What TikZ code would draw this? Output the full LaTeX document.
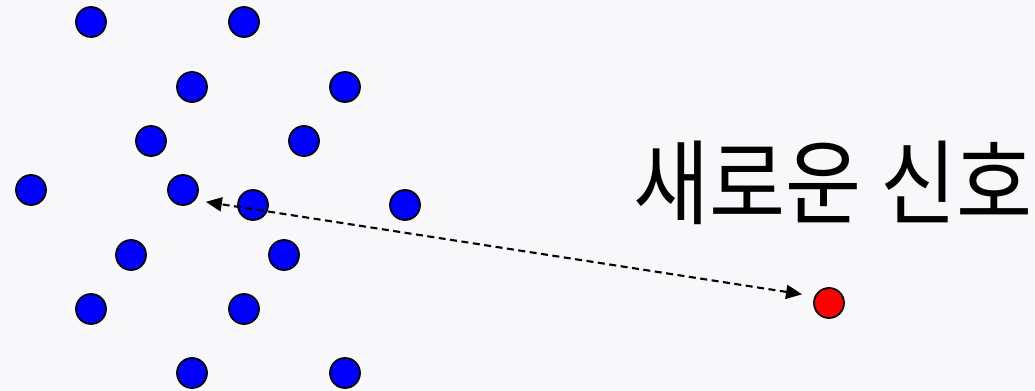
\documentclass[tikz,border=0pt]{standalone}
\usepackage{fontspec}
\newfontfamily\krfont{Noto Sans CJK KR}
\usepackage{xcolor}
\usetikzlibrary{positioning, arrows.meta}
\definecolor{bgpaper}{RGB}{248,248,250}

\begin{document}
\begin{tikzpicture}[
  x=0.01cm, y=-0.01cm,
  sample/.style={circle, draw=black, fill=blue, line width=0.5pt, minimum size=0.3cm, inner sep=0pt},
  query/.style={circle, draw=black, fill=red, line width=0.5pt, minimum size=0.3cm, inner sep=0pt},
  caption/.style={inner sep=0pt, font=\krfont\fontsize{23.5pt}{28pt}\selectfont},
  link/.style={draw, line width=0.6pt, dash pattern=on 0.07cm off 0.045cm, {Triangle[length=0.16cm, width=0.14cm]}-{Triangle[length=0.16cm, width=0.14cm]}}
]

  \fill [bgpaper] (0,0) rectangle (1035,391);

  % known samples
  \node [sample] (d1) at (91,22) {};
  \node [sample] (d2) at (244,22) {};
  \node [sample] (d3) at (192,87) {};
  \node [sample] (d4) at (345,87) {};
  \node [sample] (d5) at (151,141) {};
  \node [sample] (d6) at (304,141) {};
  \node [sample] (d7) at (31,190) {};
  \node [sample] (d8) at (183,190) {};
  \node [sample] (d9) at (253,205) {};
  \node [sample] (d10) at (405,205) {};
  \node [sample] (d11) at (131,255) {};
  \node [sample] (d12) at (284,255) {};
  \node [sample] (d13) at (91,309) {};
  \node [sample] (d14) at (244,309) {};
  \node [sample] (d15) at (192,373) {};
  \node [sample] (d16) at (345,373) {};

  % new signal
  \node [query] (sig) at (829,303) {};
  \node [caption, above=0.62cm of sig, xshift=0.04cm] (sigtext) {\scalebox{1}[1.12]{새로운 신호}};

  \draw [link, shorten <=0.127cm, shorten >=0.108cm] (sig.155) -- (d8.-40);
\end{tikzpicture}
\end{document}
